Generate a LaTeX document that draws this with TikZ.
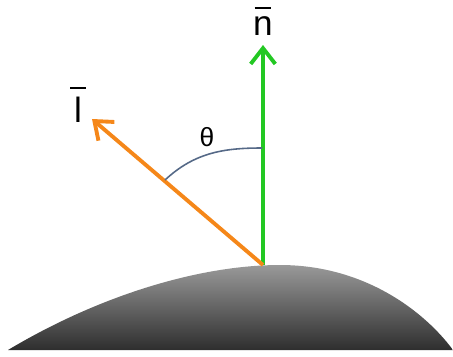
\documentclass[tikz,border=0pt]{standalone}
\usepackage{fontspec}
\setmainfont{Liberation Sans}
\usetikzlibrary{arrows.meta}
\definecolor{normgreen}{RGB}{35,200,35}
\definecolor{lightorange}{RGB}{245,135,25}
\definecolor{arcblue}{RGB}{85,105,135}
\newcommand{\barsym}[2]{\vbox{\hrule height 1.1pt width #1\kern 4.5pt\hbox to #1{\hss#2\hss}}}
\begin{document}
\begin{tikzpicture}[x=0.02cm,y=-0.02cm,
  vec/.style={line width=2.2pt,-{Straight Barb[length=9pt,width=14pt,line width=2.2pt]}},
  lbl/.style={font=\fontsize{20}{24}\selectfont,inner sep=0pt}]
  \useasboundingbox (0,0) rectangle (453,356);
  % surface
  \shade[top color=black!40,bottom color=black!82]
    (8,350) .. controls (100,295) and (200,265) .. (280,265)
    .. controls (365,265) and (425,312) .. (453,350) -- cycle;
  \coordinate (o) at (263,265);
  \coordinate (ntip) at (263,45);
  \coordinate (ltip) at (92,119);
  \draw[vec,normgreen] (o) -- (ntip);
  \draw[vec,lightorange] (o) -- (ltip);
  % angle
  \coordinate (a) at (165,180);
  \coordinate (b) at (262,148);
  \draw[arcblue,line width=0.9pt] (a) .. controls (195,152) and (225,148) .. (b);
  \node[lbl] (nlabel) at (263,21) {\barsym{9.5pt}{n}};
  \node[lbl] (llabel) at (78,105) {\barsym{9pt}{l}};
  \node[font=\fontsize{15}{18}\selectfont,inner sep=0pt] (theta) at (207,137) {θ};
\end{tikzpicture}
\end{document}
